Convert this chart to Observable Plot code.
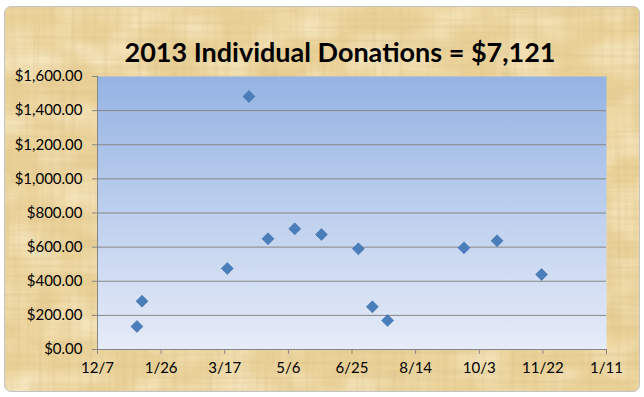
<!DOCTYPE html>
<html>
<head>
<meta charset="utf-8">
<script src="https://cdn.jsdelivr.net/npm/d3@7"></script>
<script src="https://cdn.jsdelivr.net/npm/@observablehq/plot@0.6"></script>
<style>
  html, body { margin: 0; padding: 0; background: #ffffff; }
  #page { position: relative; width: 644px; height: 397px; overflow: hidden; font-family: Lato, "Open Sans", sans-serif; }
  #frame { position: absolute; left: 4px; top: 6px; width: 634px; height: 384px; border: 1px solid #c4c4c4; border-radius: 7px; background-color: #ead197; overflow: hidden; }
  #title { position: absolute; left: 0; width: 680px; top: 36px; text-align: center; font-size: 27px; line-height: 1.2; font-weight: bold; color: #000; }
  #chart { position: absolute; left: 0; top: 70px; }
</style>
</head>
<body>
<div id="page">
  <div id="frame"></div>
  <div id="title">2013 Individual Donations = $7,121</div>
  <div id="chart"></div>
</div>
<script>
// Data
const donationDates = ["2013-01-07", "2013-01-11", "2013-03-19", "2013-04-05", "2013-04-20", "2013-05-11", "2013-06-01", "2013-06-30", "2013-07-11", "2013-07-23", "2013-09-21", "2013-10-17", "2013-11-21"];
const donationAmounts = [135, 283, 475, 1483, 649, 707, 674, 590, 250, 170, 596, 637, 440];
const xTickDates = ["2012-12-07", "2013-01-26", "2013-03-17", "2013-05-06", "2013-06-25", "2013-08-14", "2013-10-03", "2013-11-22", "2014-01-11"];
const yTickValues = [0, 200, 400, 600, 800, 1000, 1200, 1400, 1600];

const data = donationDates.map((d, i) => ({date: new Date(d), amount: donationAmounts[i]}));
const xTicks = xTickDates.map(d => new Date(d));

// papyrus-like texture (inline, no network)
const tex = `<svg xmlns='http://www.w3.org/2000/svg' width='636' height='386'>
<filter id='h'><feTurbulence type='fractalNoise' baseFrequency='0.006 0.22' numOctaves='3' seed='4'/><feColorMatrix values='0 0 0 0 0.70 0 0 0 0 0.53 0 0 0 0 0.25 0.9 0 0 0 -0.38'/></filter>
<filter id='v'><feTurbulence type='fractalNoise' baseFrequency='0.18 0.006' numOctaves='3' seed='9'/><feColorMatrix values='0 0 0 0 0.70 0 0 0 0 0.53 0 0 0 0 0.25 0.9 0 0 0 -0.40'/></filter>
<filter id='l'><feTurbulence type='fractalNoise' baseFrequency='0.02 0.03' numOctaves='2' seed='2'/><feColorMatrix values='0 0 0 0 1 0 0 0 0 0.93 0 0 0 0 0.74 1.2 0 0 0 -0.45'/></filter>
<rect width='100%' height='100%' filter='url(#l)'/>
<rect width='100%' height='100%' filter='url(#h)'/>
<rect width='100%' height='100%' filter='url(#v)'/>
</svg>`;
document.getElementById("frame").style.backgroundImage = `url("data:image/svg+xml;utf8,${encodeURIComponent(tex)}")`;

const fmtDate = d => `${d.getUTCMonth() + 1}/${d.getUTCDate()}`;

const chart = Plot.plot({
  width: 644,
  height: 327,
  marginTop: 6,
  marginBottom: 48,
  marginLeft: 97,
  marginRight: 38,
  style: {background: "transparent", overflow: "visible", fontFamily: "Lato, 'Open Sans', sans-serif", fontSize: "15px", color: "#000"},
  x: {type: "utc", domain: [xTicks[0], xTicks[xTicks.length - 1]]},
  y: {domain: [0, 1600]},
  marks: [
    Plot.frame({fill: "url(#plotGrad)", stroke: null}),
    Plot.gridY(yTickValues.slice(1, -1), {stroke: "#868686", strokeOpacity: 1, strokeWidth: 1}),
    Plot.axisY(yTickValues, {tickSize: 5, tickPadding: 10, tickFormat: d3.format("$,.2f"), stroke: "#868686", fill: "#000", label: null}),
    Plot.axisX(xTicks, {tickSize: 5, tickPadding: 8, tickFormat: fmtDate, stroke: "#868686", fill: "#000", label: null}),
    Plot.ruleY([0], {stroke: "#868686"}),
    Plot.ruleX([xTicks[0]], {stroke: "#868686"}),
    Plot.dot(data, {x: "date", y: "amount", symbol: "diamond2", r: 5.4, fill: "#4a7ebb", stroke: "#3f70a8", strokeWidth: 0.6})
  ]
});
chart.insertAdjacentHTML("afterbegin", `<defs><linearGradient id="plotGrad" x1="0" y1="0" x2="0" y2="1"><stop offset="0" stop-color="#95b3e3"/><stop offset="1" stop-color="#e6ecf8"/></linearGradient></defs>`);
document.getElementById("chart").appendChild(chart);
</script>
</body>
</html>
